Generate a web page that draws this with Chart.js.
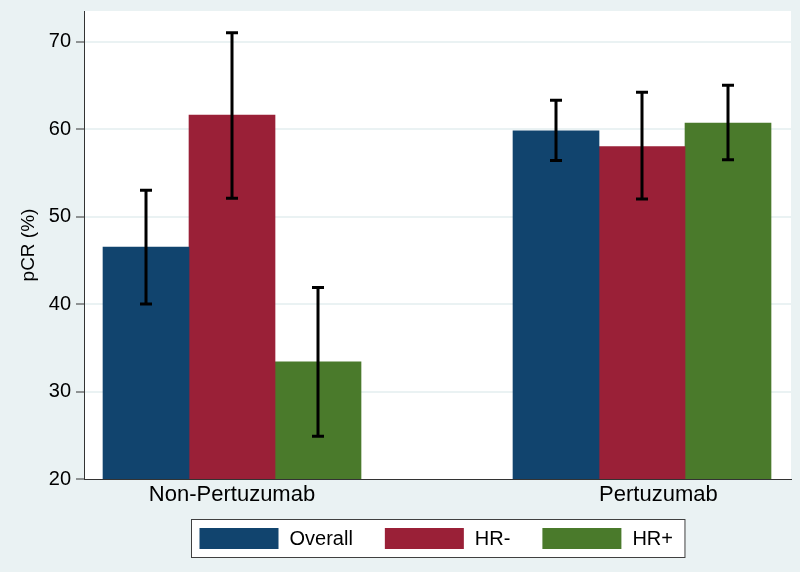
<!DOCTYPE html>
<html>
<head>
<meta charset="utf-8">
<script src="https://cdn.jsdelivr.net/npm/chart.js@4.4.0/dist/chart.umd.min.js"></script>
<style>
html,body{margin:0;padding:0;background:#EAF2F3;}
canvas{display:block;}
</style>
</head>
<body>
<canvas id="c" width="800" height="572"></canvas>
<script>
// ---- data ----
const categories = ['Non-Pertuzumab', 'Pertuzumab'];
const seriesNames = ['Overall', 'HR-', 'HR+'];
const overallVals = [46.5, 59.8];
const hrNegVals   = [61.6, 58.0];
const hrPosVals   = [33.4, 60.7];
const overallLow  = [40.0, 56.4];
const overallHigh = [53.0, 63.3];
const hrNegLow    = [52.1, 52.0];
const hrNegHigh   = [71.0, 64.2];
const hrPosLow    = [24.9, 56.5];
const hrPosHigh   = [41.9, 65.0];
const yTickLabels = [20, 30, 40, 50, 60, 70];

// ---- style ----
const colors = ['#11446E', '#9A2037', '#4A7A2B'];
const FONT = '"Liberation Sans", Arial, Helvetica, sans-serif';
const xTickPos = [0, 1.04];

const vals = [overallVals, hrNegVals, hrPosVals];
const lows = [overallLow, hrNegLow, hrPosLow];
const highs = [overallHigh, hrNegHigh, hrPosHigh];

const datasets = seriesNames.map((name, s) => ({
  label: name,
  data: categories.map((c, i) => ({x: i, y: vals[s][i], lo: lows[s][i], hi: highs[s][i]})),
  backgroundColor: colors[s],
  borderWidth: 0,
  barThickness: 86
}));

const plotBg = {
  id: 'plotBg',
  beforeDraw(chart) {
    const {ctx, chartArea: a} = chart;
    ctx.save();
    ctx.fillStyle = '#EAF2F3';
    ctx.fillRect(0, 0, chart.width, chart.height);
    ctx.fillStyle = '#FFFFFF';
    ctx.fillRect(a.left, a.top, a.right - a.left, a.bottom - a.top);
    ctx.restore();
  }
};

const errBars = {
  id: 'errBars',
  afterDatasetsDraw(chart) {
    const {ctx} = chart;
    const ys = chart.scales.y;
    ctx.save();
    ctx.strokeStyle = '#000';
    ctx.lineWidth = 3;
    chart.data.datasets.forEach((ds, di) => {
      const meta = chart.getDatasetMeta(di);
      meta.data.forEach((bar, i) => {
        const d = ds.data[i];
        const x = bar.x;
        const y1 = ys.getPixelForValue(d.lo);
        const y2 = ys.getPixelForValue(d.hi);
        ctx.beginPath();
        ctx.moveTo(x, y1); ctx.lineTo(x, y2);
        ctx.moveTo(x - 6, y1); ctx.lineTo(x + 6, y1);
        ctx.moveTo(x - 6, y2); ctx.lineTo(x + 6, y2);
        ctx.stroke();
      });
    });
    ctx.restore();
  }
};

const boxLegend = {
  id: 'boxLegend',
  afterDraw(chart) {
    const {ctx, chartArea: a} = chart;
    ctx.save();
    ctx.font = '20px ' + FONT;
    const sw = 79, sh = 21, gapT = 11, gapI = 32, pad = 8;
    const items = chart.data.datasets.map(d => ({label: d.label, color: d.backgroundColor, w: ctx.measureText(d.label).width}));
    let total = 0;
    items.forEach((it, i) => { total += sw + gapT + it.w + (i < items.length - 1 ? gapI : 0); });
    const boxW = total + pad * 2 + 4;
    const cx = (a.left + a.right) / 2;
    const bx = Math.round(cx - boxW / 2) + 0.5;
    const by = 519.5, bh = 38;
    ctx.fillStyle = '#FFFFFF';
    ctx.fillRect(bx, by, boxW, bh);
    ctx.strokeStyle = '#404040';
    ctx.lineWidth = 1;
    ctx.strokeRect(bx, by, boxW, bh);
    let x = bx + pad;
    const midY = by + bh / 2;
    ctx.textBaseline = 'middle';
    ctx.textAlign = 'left';
    items.forEach(it => {
      ctx.fillStyle = it.color;
      ctx.fillRect(x, midY - sh / 2, sw, sh);
      x += sw + gapT;
      ctx.fillStyle = '#000';
      ctx.fillText(it.label, x, midY + 1);
      x += it.w + gapI;
    });
    ctx.restore();
  }
};

new Chart(document.getElementById('c'), {
  type: 'bar',
  data: { datasets },
  options: {
    responsive: false,
    animation: false,
    layout: { padding: { top: 11, right: 9, left: 0, bottom: 0 } },
    plugins: {
      legend: { display: false },
      tooltip: { enabled: false }
    },
    scales: {
      x: {
        type: 'linear',
        offset: false,
        min: -0.361,
        max: 1.3634,
        afterBuildTicks(scale) { scale.ticks = xTickPos.map(v => ({value: v})); },
        afterFit(scale) { scale.height = 93; scale.paddingLeft = 0; scale.paddingRight = 0; },
        grid: { display: true, drawOnChartArea: false, drawTicks: false, offset: false },
        border: { display: true, color: '#333333', width: 1 },
        ticks: {
          padding: 3,
          color: '#000',
          font: { family: FONT, size: 22 },
          maxRotation: 0,
          autoSkip: false,
          callback(v, idx) { return categories[idx]; }
        }
      },
      y: {
        min: 20,
        max: 73.5,
        afterBuildTicks(scale) { scale.ticks = yTickLabels.map(v => ({value: v})); },
        afterFit(scale) { scale.width = 84; scale.paddingTop = 0; scale.paddingBottom = 0; },
        grid: {
          color: (c) => c.tick && c.tick.value === 20 ? 'rgba(0,0,0,0)' : '#EAF2F3',
          lineWidth: 2,
          tickColor: '#333333',
          tickLength: 8,
          tickWidth: 1
        },
        border: { display: true, color: '#333333', width: 1 },
        ticks: {
          padding: 5,
          color: '#000',
          font: { family: FONT, size: 20 },
          callback(v) { return String(v); }
        },
        title: {
          display: true,
          text: 'pCR (%)',
          color: '#000',
          font: { family: FONT, size: 19 },
          padding: { top: 17, bottom: 0 }
        }
      }
    }
  },
  plugins: [plotBg, errBars, boxLegend]
});
</script>
</body>
</html>
